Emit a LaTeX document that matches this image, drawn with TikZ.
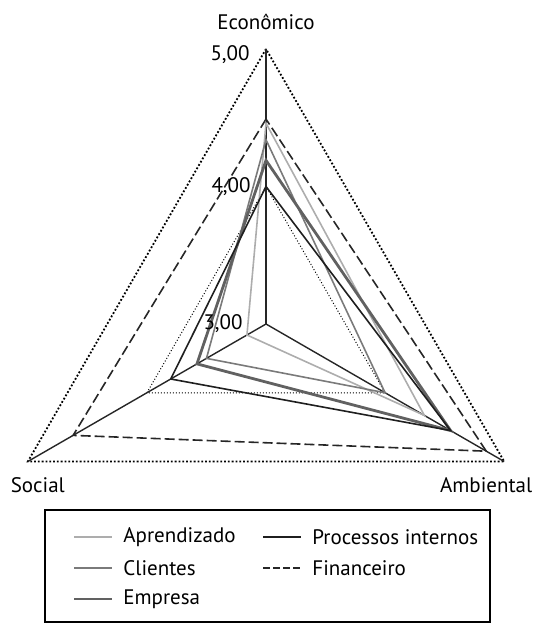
\documentclass[tikz,border=0pt]{standalone}
\usepackage{fontspec}
\setmainfont{PT Sans}
\usetikzlibrary{positioning}

\begin{document}
\begin{tikzpicture}[x=0.5pt,y=0.5pt,font=\fontsize{10.5}{12}\selectfont,node distance=15.5pt,
    gridout/.style={line width=0.9pt,dash pattern=on 0.9pt off 1pt},
    gridin/.style={line width=0.5pt,dash pattern=on 0.5pt off 1pt},
    spoke/.style={line width=0.7pt,black!85},
    aprend/.style={line width=0.8pt,black!32},
    clien/.style={line width=0.8pt,black!52},
    empr/.style={line width=1.4pt,black!62},
    proc/.style={line width=0.8pt,black!88},
    finan/.style={line width=0.8pt,black!85,dash pattern=on 5pt off 2pt},
    finanleg/.style={line width=0.8pt,black!85,dash pattern=on 3.5pt off 1.5pt},
    lbl/.style={inner sep=0pt},
    legtext/.style={inner sep=0pt,anchor=west}]

    \useasboundingbox (0,0) rectangle (538,-624);

    \begin{scope}[shift={(266,-324)}]
        \coordinate (c) at (0,0);
        \coordinate (eco) at (90:275);
        \coordinate (soc) at (210:275);
        \coordinate (amb) at (-30:275);
        \coordinate (eco4) at (90:137.5);
        \coordinate (soc4) at (210:137.5);
        \coordinate (amb4) at (-30:137.5);

        \draw[gridout] (eco) -- (soc) -- (amb) -- cycle;
        \draw[gridin] (eco4) -- (soc4) -- (amb4) -- cycle;
        \draw[spoke] (c) -- (eco);
        \draw[spoke] (c) -- (soc);
        \draw[spoke] (c) -- (amb);

        \foreach \s/\e/\so/\am in {finan/4.49/4.62/4.85,aprend/4.46/3.16/4.33,clien/4.34/3.50/4.00,
                empr/4.19/3.58/4.55,proc/4.00/3.80/4.55}
            \draw[\s] (90:{(\e-3)*137.5}) -- (210:{(\so-3)*137.5}) -- (-30:{(\am-3)*137.5}) -- cycle;
    \end{scope}

    \node[lbl] (teco) [above=9.5pt of eco] {Econômico};
    \node[lbl] (tsoc) [below=8pt of soc,xshift=5pt] {Social};
    \node[lbl] (tamb) [below=8pt of amb,xshift=-9pt] {Ambiental};
    \node[lbl] (v5) [left=8pt of eco,yshift=-3pt] {5,00};
    \node[lbl] (v4) [left=7.5pt of eco4] {4,00};
    \node[lbl] (v3) [left=11.5pt of c] {3,00};

    \draw[line width=0.6pt] (45,-510) rectangle (490,-622);
    \node[legtext] (lA) at (123,-537) {Aprendizado};
    \node[legtext] (lC) [below=of lA.west,anchor=west] {Clientes};
    \node[legtext] (lE) [below=of lC.west,anchor=west] {Empresa};
    \node[legtext] (lP) at (312,-537) {Processos internos};
    \node[legtext] (lF) [below=of lP.west,anchor=west] {Financeiro};

    \draw[aprend] ([xshift=-24.5pt]lA.west) -- ([xshift=-5.5pt]lA.west);
    \draw[clien] ([xshift=-24.5pt]lC.west) -- ([xshift=-5.5pt]lC.west);
    \draw[empr,line width=0.9pt] ([xshift=-24.5pt]lE.west) -- ([xshift=-5.5pt]lE.west);
    \draw[proc] ([xshift=-24.5pt]lP.west) -- ([xshift=-5.5pt]lP.west);
    \draw[finanleg] ([xshift=-24.5pt]lF.west) -- ([xshift=-5.5pt]lF.west);
\end{tikzpicture}
\end{document}
